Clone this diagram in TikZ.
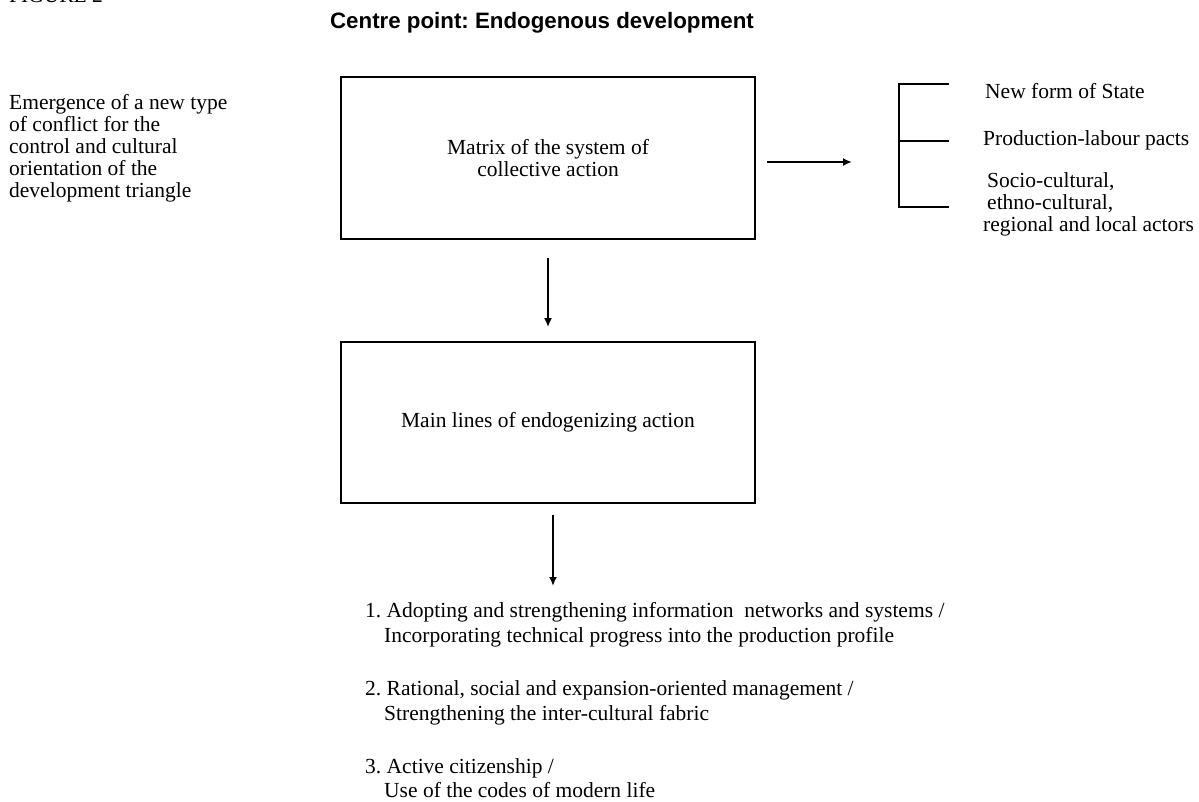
\documentclass[tikz,border=0pt]{standalone}
\usepackage{fontspec}
\setmainfont{Liberation Serif}
\newfontfamily\titlefont{Liberation Sans}
\usetikzlibrary{arrows.meta}
\newcommand{\tl}[1]{\begin{tabular}[t]{@{}l@{}}#1\end{tabular}}
\tikzset{
  txt/.style={anchor=base west, inner sep=0pt, font=\fontsize{21.5}{22}\selectfont\frenchspacing},
  boxnode/.style={draw, line width=1.8pt, minimum width=414pt, inner sep=0pt, align=center, font=\fontsize{21.5}{22}\selectfont},
  arr/.style={line width=1.8pt, -{Latex[length=9pt,width=8pt]}},
  brk/.style={line width=1.3pt}
}
\begin{document}
\begin{tikzpicture}[x=1pt,y=-1pt]
\useasboundingbox (0,0) rectangle (1199,801);
% header
\node[txt] (fig) at (9,2) {FIGURE 2};
\node[anchor=base, inner sep=0pt, font=\titlefont\bfseries\fontsize{22.3}{22}\selectfont\frenchspacing] (title) at (542,28) {Centre point: Endogenous development};
% left text
\node[txt] (left) at (9,109) {\tl{Emergence of a new type\\of conflict for the\\control and cultural\\orientation of the\\development triangle}};
% boxes
\node[boxnode, minimum height=162pt] (box1) at (548,158) {Matrix of the system of\\collective action};
\node[boxnode, minimum height=161pt] (box2) at (548,422.5) {Main lines of endogenizing action};
% arrows
\draw[arr, shorten <=18pt, shorten >=14pt] (box1.south) -- (box2.north);
\coordinate (listtop) at (553,586);
\draw[arr, shorten <=11pt] ([xshift=5pt]box2.south) -- (listtop);
\coordinate (harrow) at (852,162);
\draw[arr, shorten <=11pt] ([yshift=-4pt]box1.east) -- (harrow);
% bracket
\coordinate (b1) at (899,84);
\coordinate (b2) at (899,141);
\coordinate (b3) at (899,207);
\coordinate (t1) at (949,84);
\coordinate (t2) at (949,141);
\coordinate (t3) at (949,207);
\draw[brk] (t1) -- (b1) -- (b3) -- (t3);
\draw[brk] (b2) -- (t2);
\node[txt] (r1) at (985,98) {New form of State};
\node[txt] (r2) at (983,145) {Production-labour pacts};
\node[txt] (r3) at (987,187) {\tl{Socio-cultural,\\ethno-cultural,\\\hspace*{-4pt}regional and local actors}};
% list
\node[txt, font=\fontsize{21.5}{25.5}\selectfont\frenchspacing] (l1) at (365,617) {\tl{1. Adopting and strengthening information~ networks and systems /\\\hspace*{19pt}Incorporating technical progress into the production profile}};
\node[txt, font=\fontsize{21.5}{25.5}\selectfont\frenchspacing] (l2) at (365,695) {\tl{2. Rational, social and expansion-oriented management /\\\hspace*{19pt}Strengthening the inter-cultural fabric}};
\node[txt, font=\fontsize{21.5}{24.5}\selectfont\frenchspacing] (l3) at (365,773) {\tl{3. Active citizenship /\\\hspace*{19pt}Use of the codes of modern life}};
\end{tikzpicture}
\end{document}
